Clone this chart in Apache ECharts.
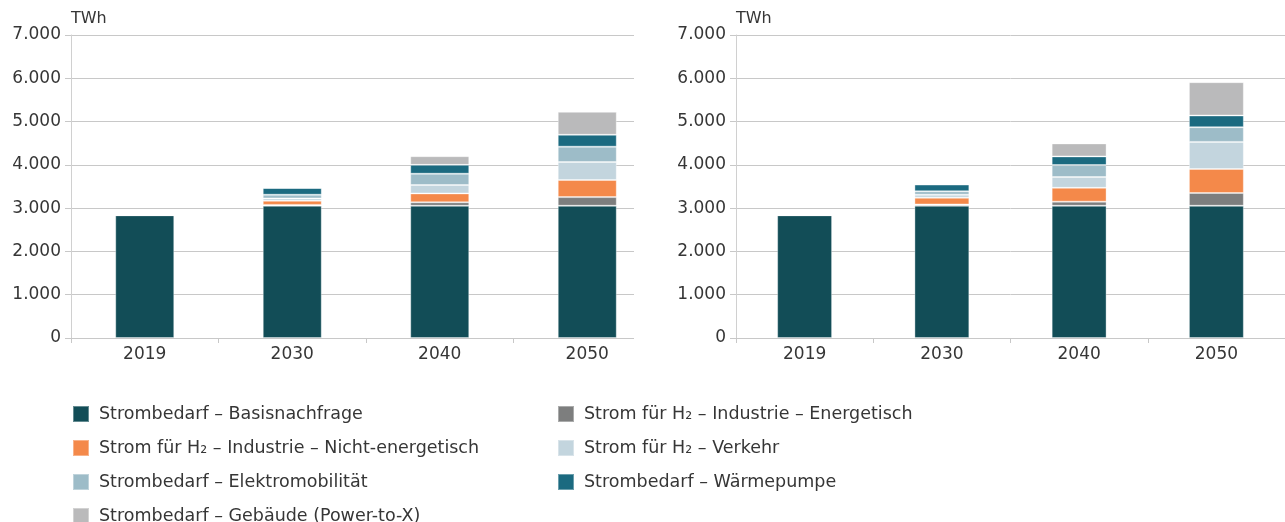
<!DOCTYPE html>
<html>
<head>
<meta charset="utf-8">
<script src="https://cdn.jsdelivr.net/npm/echarts@6/dist/echarts.min.js"></script>
<style>
html,body{margin:0;padding:0;background:#fff;}
#chart{width:1285px;height:522px;}
</style>
</head>
<body>
<div id="chart"></div>
<script>
const categories = ['2019', '2030', '2040', '2050'];
const seriesNames = [
  'Strombedarf – Basisnachfrage',
  'Strom für H₂ – Industrie – Energetisch',
  'Strom für H₂ – Industrie – Nicht-energetisch',
  'Strom für H₂ – Verkehr',
  'Strombedarf – Elektromobilität',
  'Strombedarf – Wärmepumpe',
  'Strombedarf – Gebäude (Power-to-X)'
];
const colors = ['#124d57', '#7d7e7e', '#f4894a', '#c3d5de', '#9dbcc8', '#1b6a80', '#bababb'];

// left scenario
const basisA     = [2835, 3055, 3055, 3055];
const h2EnergA   = [0, 20, 80, 200];
const h2NichtA   = [0, 95, 205, 395];
const h2VerkehrA = [0, 55, 195, 415];
const elektroA   = [0, 85, 260, 355];
const waermeA    = [0, 155, 205, 275];
const gebaeudeA  = [0, 0, 200, 530];

// right scenario
const basisB     = [2835, 3055, 3055, 3055];
const h2EnergB   = [0, 30, 95, 295];
const h2NichtB   = [0, 155, 320, 555];
const h2VerkehrB = [0, 70, 250, 625];
const elektroB   = [0, 80, 275, 340];
const waermeB    = [0, 155, 200, 270];
const gebaeudeB  = [0, 0, 300, 770];

const yMin = 0, yMax = 7000, yInterval = 1000;
const unitLabel = 'TWh';

const dataA = [basisA, h2EnergA, h2NichtA, h2VerkehrA, elektroA, waermeA, gebaeudeA];
const dataB = [basisB, h2EnergB, h2NichtB, h2VerkehrB, elektroB, waermeB, gebaeudeB];

const FONT = '"DejaVu Sans", sans-serif';
const TXT = '#363636';

function fmt(v) {
  return String(v).replace(/\B(?=(\d{3})+(?!\d))/g, '.');
}

function xAx(gi) {
  return {
    type: 'category', gridIndex: gi, data: categories,
    axisLine: { lineStyle: { color: '#c8c8c8', width: 1 } },
    axisTick: { show: true, length: 5, lineStyle: { color: '#c8c8c8' } },
    axisLabel: { color: TXT, fontSize: 17, fontFamily: FONT, margin: 8 }
  };
}
function yAx(gi) {
  return {
    type: 'value', gridIndex: gi, min: yMin, max: yMax, interval: yInterval,
    name: unitLabel, nameLocation: 'end', nameGap: 8,
    nameTextStyle: { color: TXT, fontSize: 16, fontFamily: FONT, align: 'left', verticalAlign: 'bottom' },
    axisLine: { show: true, lineStyle: { color: '#d0d0d0', width: 1 } },
    axisTick: { show: true, length: 6, lineStyle: { color: '#c8c8c8' } },
    splitLine: { lineStyle: { color: '#c8c8c8', width: 1 } },
    axisLabel: { color: TXT, fontSize: 17, fontFamily: FONT, margin: 10, formatter: fmt }
  };
}

const series = [];
[dataA, dataB].forEach((set, gi) => {
  set.forEach((arr, i) => {
    series.push({
      name: seriesNames[i], type: 'bar', stack: 's' + gi,
      xAxisIndex: gi, yAxisIndex: gi, data: arr, barWidth: '40%',
      itemStyle: { color: colors[i], borderColor: 'rgba(255,255,255,0.35)', borderWidth: 1 },
      emphasis: { disabled: true }
    });
  });
});

const legendBase = {
  orient: 'vertical', itemWidth: 16, itemHeight: 16, itemGap: 16, padding: 0,
  height: 130,
  icon: 'rect',
  textStyle: { color: TXT, fontSize: 17.5, fontFamily: FONT, lineHeight: 18, padding: [0, 0, 0, 5] },
  selectedMode: false
};

const chart = echarts.init(document.getElementById('chart'), null, { renderer: 'canvas' });
chart.setOption({
  animation: false,
  color: colors,
  grid: [
    { left: 71, top: 35, width: 590, height: 303 },
    { left: 736, top: 35, width: 580, height: 303 }
  ],
  xAxis: [xAx(0), xAx(1)],
  yAxis: [yAx(0), yAx(1)],
  legend: [
    Object.assign({}, legendBase, { left: 72, top: 405, data: [seriesNames[0], seriesNames[2], seriesNames[4], seriesNames[6]] }),
    Object.assign({}, legendBase, { left: 557, top: 405, data: [seriesNames[1], seriesNames[3], seriesNames[5]] })
  ],
  graphic: [
    { type: 'rect', left: 634, top: 28, shape: { width: 28, height: 318 }, style: { fill: '#ffffff' }, z: 100, silent: true }
  ],
  series: series
});
</script>
</body>
</html>
